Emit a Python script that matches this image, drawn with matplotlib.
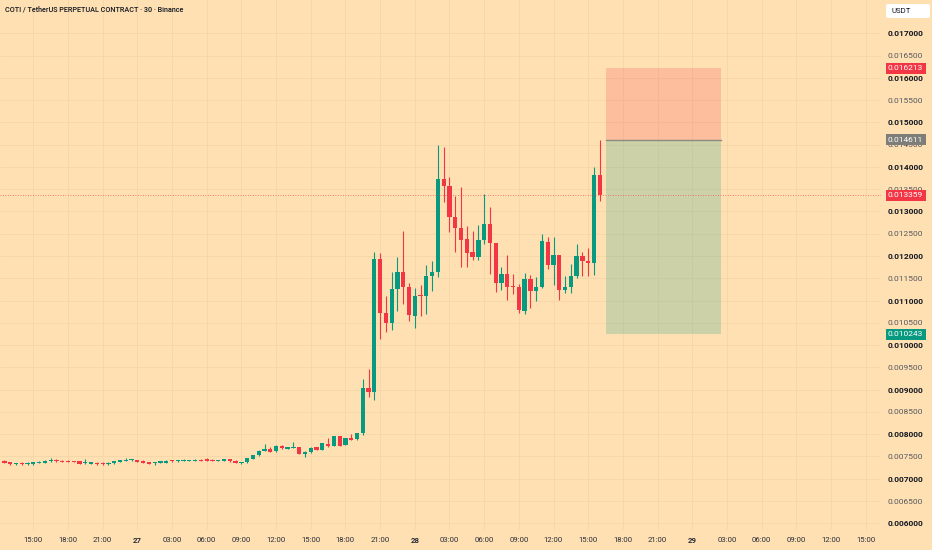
import matplotlib
matplotlib.use("Agg")
import matplotlib.pyplot as plt
import matplotlib.dates as mdates
from matplotlib.patches import Rectangle, FancyBboxPatch
import numpy as np
import pandas as pd

plt.rcParams['font.family'] = ['Roboto', 'DejaVu Sans']

# 30 minute candles, first one at 26th 12:30
first_candle = "2024-11-26 12:30"

opens = [
    0.007399, 0.007369, 0.007325, 0.007354, 0.007331, 0.007331, 0.007361, 0.007361,
    0.007392, 0.007428, 0.007406, 0.007399, 0.007392, 0.007392, 0.007347, 0.007338,
    0.007354, 0.007354, 0.007331, 0.007347, 0.007383, 0.007406, 0.007414, 0.007421,
    0.007399, 0.007376, 0.007354, 0.007361, 0.007361, 0.007414, 0.007392, 0.007399,
    0.007399, 0.007399, 0.007428, 0.007437, 0.007428, 0.007399, 0.007406, 0.007437,
    0.007399, 0.007354, 0.007369, 0.007451, 0.007527, 0.007623, 0.007661, 0.007612,
    0.007742, 0.007675, 0.007697, 0.007706, 0.007549, 0.007594, 0.007706, 0.007652,
    0.007787, 0.007742, 0.007960, 0.007758, 0.007922, 0.007886, 0.008027, 0.009044,
    0.008954, 0.011933, 0.010714, 0.010490, 0.011253, 0.011648, 0.011298, 0.010661,
    0.011125, 0.011103, 0.011552, 0.011648, 0.013723, 0.013579, 0.012883, 0.012636,
    0.012376, 0.012084, 0.011985, 0.012360, 0.012712, 0.012286, 0.011401, 0.011590,
    0.011327, 0.011312, 0.010773, 0.011484, 0.011222, 0.011298, 0.012322, 0.011799,
    0.012023, 0.011237, 0.011298, 0.011558, 0.012001, 0.011888, 0.011850, 0.013808,
]
highs = [
    0.007410, 0.007380, 0.007358, 0.007365, 0.007365, 0.007380, 0.007395, 0.007410,
    0.007466, 0.007440, 0.007415, 0.007410, 0.007403, 0.007403, 0.007444, 0.007387,
    0.007365, 0.007365, 0.007365, 0.007403, 0.007432, 0.007459, 0.007448, 0.007432,
    0.007410, 0.007387, 0.007380, 0.007403, 0.007410, 0.007425, 0.007425, 0.007440,
    0.007425, 0.007437, 0.007437, 0.007459, 0.007437, 0.007432, 0.007448, 0.007448,
    0.007410, 0.007380, 0.007470, 0.007540, 0.007635, 0.007780, 0.007706, 0.007753,
    0.007753, 0.007724, 0.007818, 0.007717, 0.007618, 0.007708, 0.007717, 0.007807,
    0.007908, 0.007971, 0.007971, 0.007919, 0.007998, 0.008032, 0.009233, 0.009464,
    0.012097, 0.012075, 0.011103, 0.011648, 0.011985, 0.012569, 0.011388, 0.011276,
    0.011350, 0.011799, 0.011888, 0.014493, 0.014441, 0.013767, 0.013354, 0.013556,
    0.012674, 0.012569, 0.012697, 0.013386, 0.013094, 0.012293, 0.011761, 0.012023,
    0.011597, 0.011372, 0.011612, 0.011574, 0.011536, 0.012495, 0.012434, 0.012420,
    0.012030, 0.011558, 0.011814, 0.012263, 0.012097, 0.012174, 0.013992, 0.014605,
]
lows = [
    0.007350, 0.007320, 0.007315, 0.007320, 0.007320, 0.007320, 0.007350, 0.007350,
    0.007380, 0.007380, 0.007372, 0.007372, 0.007365, 0.007327, 0.007336, 0.007327,
    0.007320, 0.007302, 0.007320, 0.007336, 0.007372, 0.007395, 0.007403, 0.007365,
    0.007350, 0.007327, 0.007316, 0.007350, 0.007350, 0.007380, 0.007380, 0.007388,
    0.007388, 0.007388, 0.007395, 0.007395, 0.007388, 0.007388, 0.007395, 0.007380,
    0.007350, 0.007338, 0.007358, 0.007440, 0.007515, 0.007612, 0.007596, 0.007600,
    0.007673, 0.007664, 0.007686, 0.007545, 0.007482, 0.007583, 0.007635, 0.007641,
    0.007724, 0.007731, 0.007731, 0.007747, 0.007859, 0.007875, 0.007982, 0.008842,
    0.008768, 0.010137, 0.010301, 0.010339, 0.010766, 0.010923, 0.010542, 0.010378,
    0.010654, 0.010699, 0.011222, 0.011536, 0.013220, 0.012546, 0.012097, 0.011761,
    0.011761, 0.011911, 0.011911, 0.012263, 0.011590, 0.011199, 0.011237, 0.011013,
    0.011141, 0.010728, 0.010699, 0.010827, 0.010990, 0.011276, 0.011702, 0.011350,
    0.011013, 0.011163, 0.011163, 0.011500, 0.011558, 0.011558, 0.011574, 0.013242,
]
closes = [
    0.007361, 0.007331, 0.007347, 0.007331, 0.007354, 0.007369, 0.007383, 0.007399,
    0.007421, 0.007392, 0.007383, 0.007383, 0.007376, 0.007338, 0.007369, 0.007376,
    0.007331, 0.007325, 0.007354, 0.007392, 0.007421, 0.007428, 0.007437, 0.007376,
    0.007361, 0.007338, 0.007369, 0.007392, 0.007399, 0.007392, 0.007414, 0.007428,
    0.007414, 0.007428, 0.007406, 0.007406, 0.007399, 0.007421, 0.007437, 0.007392,
    0.007361, 0.007369, 0.007459, 0.007527, 0.007623, 0.007668, 0.007607, 0.007742,
    0.007684, 0.007713, 0.007713, 0.007556, 0.007607, 0.007697, 0.007646, 0.007796,
    0.007735, 0.007960, 0.007742, 0.007908, 0.007870, 0.008021, 0.009031, 0.008954,
    0.011933, 0.010728, 0.010490, 0.011253, 0.011648, 0.011298, 0.010676, 0.011109,
    0.011103, 0.011552, 0.011648, 0.013723, 0.013579, 0.012883, 0.012636, 0.012360,
    0.012075, 0.011985, 0.012360, 0.012712, 0.012286, 0.011401, 0.011590, 0.011312,
    0.011312, 0.010788, 0.011484, 0.011222, 0.011298, 0.012337, 0.011799, 0.012023,
    0.011237, 0.011298, 0.011558, 0.012001, 0.011888, 0.011850, 0.013808, 0.013359,
]

# short position tool
entry_price = 0.014611
stop_price = 0.016213
target_price = 0.010243
position_start = "2024-11-28 16:30"
position_end = "2024-11-29 02:30"
last_price = 0.013359

BG = "#FFE0B2"
UP = "#089981"
DOWN = "#F23645"
GRID = "#F5D6A8"

times = pd.date_range(first_candle, periods=len(opens), freq="30min")
x = mdates.date2num(times)
step = 1 / 48

o = np.array(opens)
h = np.array(highs)
l = np.array(lows)
c = np.array(closes)
up = c >= o
cols = np.where(up, UP, DOWN)

fig = plt.figure(figsize=(9.32, 5.5), dpi=100, facecolor=BG)
ax = fig.add_axes([0, 20 / 550, 881 / 932, 530 / 550], facecolor=BG)

ax.vlines(x, l, h, colors=cols, linewidth=0.8, zorder=3)
body_bottom = np.minimum(o, c)
body_height = np.maximum(np.abs(c - o), 0.000018)
ax.bar(x, body_height, width=step * 0.74, bottom=body_bottom, color=cols,
       linewidth=0, zorder=4)

# position boxes
p0 = mdates.date2num(pd.Timestamp(position_start))
p1 = mdates.date2num(pd.Timestamp(position_end))
ax.add_patch(Rectangle((p0, entry_price), p1 - p0, stop_price - entry_price,
                       facecolor=DOWN, alpha=0.2, linewidth=0, zorder=2))
ax.add_patch(Rectangle((p0, target_price), p1 - p0, entry_price - target_price,
                       facecolor=UP, alpha=0.2, linewidth=0, zorder=2))
ax.plot([p0, p1], [entry_price, entry_price], color="#8a8a80", linewidth=1, zorder=3)

ax.axhline(last_price, color=DOWN, linewidth=0.6, alpha=0.8,
           linestyle=(0, (1, 2)), zorder=5)

# limits
ax.set_xlim(x[0] - 0.761 * step, x[0] + 151.66 * step)
ax.set_ylim(0.0058496, 0.0177476)

# price axis
yt = np.arange(6000, 17001, 500) / 1e6
ax.yaxis.tick_right()
ax.set_yticks(yt)
ax.set_yticklabels([f"{v:.6f}" for v in yt])
for v, lab in zip(yt, ax.get_yticklabels()):
    if round(v * 1e6) % 1000 == 0:
        lab.set_fontweight("bold")
        lab.set_color("#131722")
    else:
        lab.set_color("#55585f")
ax.tick_params(axis="y", length=0, pad=5, labelsize=6)

# time axis
xt = pd.date_range("2024-11-26 15:00", "2024-11-29 15:00", freq="3h")
ax.set_xticks(mdates.date2num(xt))
ax.set_xticklabels([str(t.day) if t.hour == 0 else t.strftime("%H:%M") for t in xt])
for t, lab in zip(xt, ax.get_xticklabels()):
    if t.hour == 0:
        lab.set_fontweight("bold")
ax.tick_params(axis="x", length=0, pad=5, labelsize=5.6, labelcolor="#2a2e39")

ax.grid(True, color=GRID, linewidth=0.6, zorder=0)
ax.set_axisbelow(True)
for s in ax.spines.values():
    s.set_visible(False)

# price badges on the right
lx = 1 + 7 / 881
for price, colr in [(stop_price, DOWN), (entry_price, "#7f7d78"),
                    (last_price, DOWN), (target_price, UP)]:
    ax.text(lx, price, f"{price:.6f}", transform=ax.get_yaxis_transform(),
            ha="left", va="center", fontsize=6, color="white", clip_on=False,
            zorder=10,
            bbox=dict(boxstyle="square,pad=0.3", facecolor=colr, edgecolor="none"))

# currency box
fig.add_artist(FancyBboxPatch((886 / 932, 1 - 18 / 550), 44 / 932, 14 / 550,
                              boxstyle="round,pad=0,rounding_size=0.004",
                              transform=fig.transFigure, facecolor="white",
                              edgecolor="none", mutation_aspect=550 / 932))
fig.text(891 / 932, 1 - 11 / 550, "USDT", ha="left", va="center", fontsize=5.6,
         color="#131722")

fig.text(5 / 932, 1 - 10 / 550, "COTI / TetherUS PERPETUAL CONTRACT · 30 · Binance",
         ha="left", va="center", fontsize=5.2, color="#131722", fontweight="medium")

fig.savefig("out.png", dpi=100, facecolor=BG)
